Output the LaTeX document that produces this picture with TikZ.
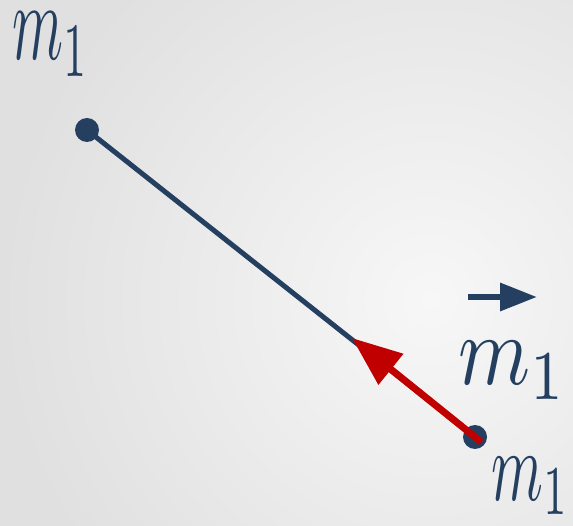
\documentclass[tikz,border=0pt]{standalone}
\usetikzlibrary{arrows.meta}
\definecolor{RodBlue}{HTML}{243F60}
\definecolor{PullRed}{HTML}{C00000}
\definecolor{BackEdge}{HTML}{E0E0E0}
\definecolor{BackGlow}{HTML}{F7F7F7}

\begin{document}
\begin{tikzpicture}[
  x=1pt, y=-1pt,
  dot/.style={circle,fill=RodBlue,inner sep=0pt,minimum size=24pt},
  rod/.style={draw=RodBlue,line width=5pt},
  pull/.style={draw=PullRed,line width=7pt,-{Triangle[length=50pt,width=38pt]}},
  vecarrow/.style={draw=RodBlue,line width=6.5pt,-{Triangle[length=37pt,width=27pt]}},
  lbl/.style={inner sep=0pt,anchor=base west,text=RodBlue},
]
% background
\fill[BackEdge] (0,0) rectangle (573,526);
\begin{scope}
  \clip (0,0) rectangle (573,526);
  \shade[inner color=BackGlow,outer color=BackEdge] (430,300) circle[radius=430];
\end{scope}
\useasboundingbox (0,0) rectangle (573,526);

% masses and rod
\node[dot] (mass1) at (87,130) {};
\node[dot] (mass2) at (475,437) {};
\coordinate (tip) at (352,338);
\draw[rod] (mass1.center) -- (mass2.center);
\draw[pull,shorten <=-8pt] (mass2.center) -- (tip);

% labels
\node[lbl] (lbltop) at (12,60) {\scalebox{5.8}[11]{$m_1$}};
\node[lbl] (lblvec) at (458,385) {\scalebox{8.2}[10]{$m_1$}};
\node[lbl] (lblbot) at (491,500) {\scalebox{5.9}[10]{$m_1$}};
\coordinate (veca) at (468,297);
\coordinate (vecb) at (537,297);
\draw[vecarrow] (veca) -- (vecb);
\end{tikzpicture}
\end{document}
